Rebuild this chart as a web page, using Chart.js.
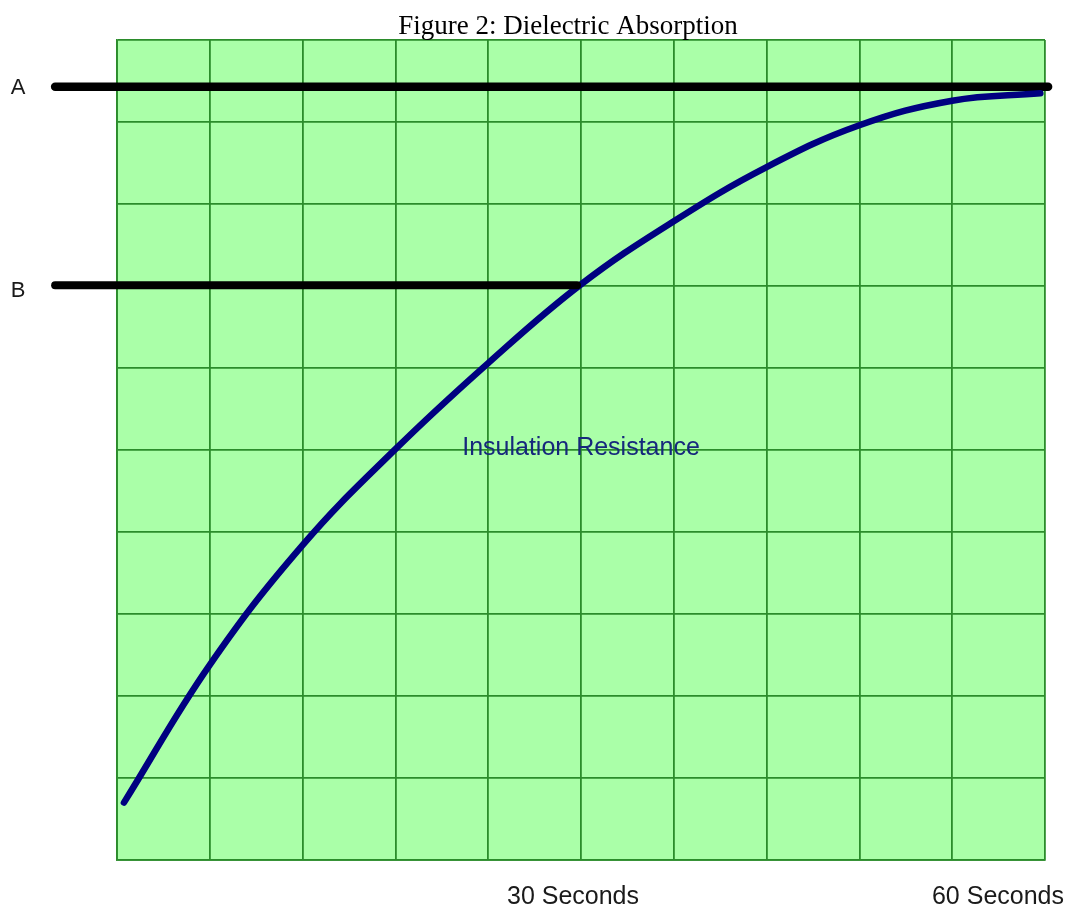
<!DOCTYPE html>
<html>
<head>
<meta charset="utf-8">
<script src="https://cdn.jsdelivr.net/npm/chart.js@4/dist/chart.umd.min.js"></script>
<style>
  html, body { margin: 0; padding: 0; background: #fff; }
  #wrap { width: 1072px; height: 912px; }
</style>
</head>
<body>
<div id="wrap"><canvas id="absorptionChart"></canvas></div>
<script>
// Curve: time (s) vs resistance (grid units)
const curveTime = [0.45, 6, 12, 18, 24, 30, 36, 42, 48, 54, 59.7];
const curveValue = [0.70, 2.38, 3.84, 5.01, 6.06, 7.02, 7.79, 8.45, 8.96, 9.26, 9.35];

// Reference lines A and B (start/end time, level)
const lineATime = [-4, 60.2];
const lineALevel = 9.43;
const lineBTime = [-4, 29.74];
const lineBLevel = 7.01;

const refLabels = ['A', 'B'];
const timeLabels = ['30 Seconds', '60 Seconds'];
const curveLabel = 'Insulation Resistance';
const titleText = 'Figure 2: Dielectric Absorption';

const gridGreen = '#2b8c2b';

// fills the plot area and writes the loose labels
const figurePlugin = {
  id: 'figureText',
  beforeDraw(chart) {
    const { ctx, chartArea } = chart;
    ctx.save();
    ctx.fillStyle = '#aaffa8';
    ctx.fillRect(chartArea.left, chartArea.top, chartArea.right - chartArea.left, chartArea.bottom - chartArea.top);
    ctx.restore();
  },
  afterDraw(chart) {
    const { ctx } = chart;
    const x = chart.scales.x;
    const y = chart.scales.y;
    ctx.save();

    ctx.fillStyle = '#000';
    ctx.textAlign = 'center';
    ctx.textBaseline = 'alphabetic';
    ctx.font = '27px "Liberation Serif", "Times New Roman", serif';
    ctx.fillText(titleText, 568, 34);

    ctx.font = '22px "Liberation Sans", Arial, sans-serif';
    ctx.textBaseline = 'middle';
    ctx.fillStyle = '#1a1a1a';
    ctx.fillText(refLabels[0], 18, y.getPixelForValue(lineALevel) + 1);
    ctx.fillText(refLabels[1], 18, y.getPixelForValue(lineBLevel) + 6);

    ctx.font = '25px "Liberation Sans", Arial, sans-serif';
    ctx.fillText(timeLabels[0], x.getPixelForValue(30) - 8, 897);
    ctx.textAlign = 'right';
    ctx.fillText(timeLabels[1], chart.width - 8, 897);

    ctx.textAlign = 'center';
    ctx.fillStyle = '#16287c';
    ctx.fillText(curveLabel, x.getPixelForValue(30), y.getPixelForValue(5.02));
    ctx.restore();
  }
};

const curvePoints = curveTime.map((t, i) => ({ x: t, y: curveValue[i] }));
const lineAPoints = lineATime.map(t => ({ x: t, y: lineALevel }));
const lineBPoints = lineBTime.map(t => ({ x: t, y: lineBLevel }));

new Chart(document.getElementById('absorptionChart'), {
  type: 'line',
  data: {
    datasets: [
      {
        label: 'B',
        data: lineBPoints,
        borderColor: '#000',
        borderWidth: 8,
        borderCapStyle: 'round',
        pointRadius: 0,
        clip: false
      },
      {
        label: curveLabel,
        data: curvePoints,
        borderColor: '#000080',
        borderWidth: 6.5,
        borderCapStyle: 'round',
        tension: 0.4,
        pointRadius: 0,
        clip: false
      },
      {
        label: 'A',
        data: lineAPoints,
        borderColor: '#000',
        borderWidth: 8.5,
        borderCapStyle: 'round',
        pointRadius: 0,
        clip: false
      }
    ]
  },
  options: {
    responsive: true,
    maintainAspectRatio: false,
    animation: false,
    layout: { padding: { left: 117, right: 27, top: 40, bottom: 52 } },
    plugins: {
      legend: { display: false },
      title: { display: false },
      tooltip: { enabled: false }
    },
    scales: {
      x: {
        type: 'linear',
        min: 0,
        max: 60,
        ticks: { display: false, stepSize: 6 },
        grid: { color: gridGreen, lineWidth: 1.8, drawTicks: false },
        border: { color: gridGreen, width: 1.8 }
      },
      y: {
        type: 'linear',
        min: 0,
        max: 10,
        ticks: { display: false, stepSize: 1 },
        grid: { color: gridGreen, lineWidth: 1.8, drawTicks: false },
        border: { color: gridGreen, width: 1.8 }
      }
    }
  },
  plugins: [figurePlugin]
});
</script>
</body>
</html>
